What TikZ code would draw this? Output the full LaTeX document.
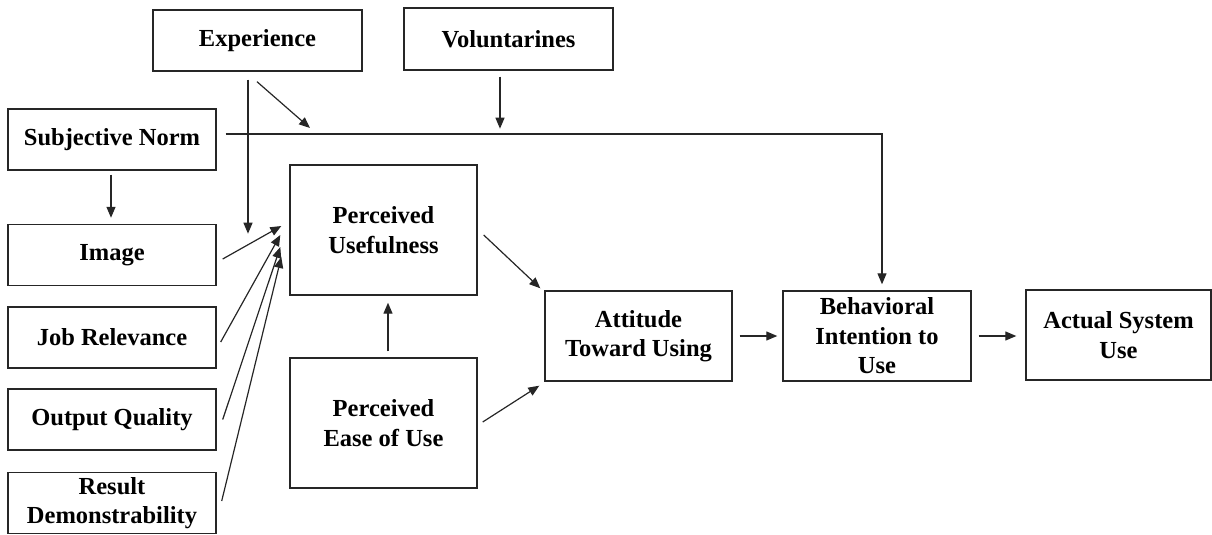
\documentclass[tikz,border=0pt]{standalone}
\usepackage{fontspec}
\setmainfont{Liberation Serif}
\usetikzlibrary{arrows.meta,calc}
\definecolor{ink}{HTML}{262626}
\begin{document}
\begin{tikzpicture}[x=1pt,y=-1pt,
  box/.style={draw=ink,line width=1.4pt,align=center,inner sep=0pt,
    font=\bfseries\fontsize{24.5}{29.5}\selectfont},
  side/.style={box,minimum width=208pt,minimum height=61pt},
  core/.style={box,minimum width=187pt,minimum height=130pt},
  stage/.style={box,minimum width=187pt,minimum height=90pt},
  link/.style={draw=ink,line width=1.2pt,-{Triangle[length=11pt,width=9pt]}}]
\useasboundingbox (0,0) rectangle (1212,535);

% moderators along the top
\node[box,minimum width=209pt,minimum height=61pt] (exp) at (257.5,40.5) {Experience};
\node[box,minimum width=209pt,minimum height=62pt] (vol) at (508.5,39) {Voluntarines};

% external variables on the left
\node[side] (sn)  at (112,139.5) {Subjective Norm};
\node[side] (img) at (112,255)   {Image};
\node[side] (job) at (112,337.5) {Job Relevance};
\node[side] (oq)  at (112,419.5) {Output Quality};
\node[side] (rd)  at (112,503)   {Result\\Demonstrability};

% perceptions
\node[core] (pu)   at (383.5,230) {Perceived\\Usefulness};
\node[core] (peou) at (383.5,423) {Perceived\\Ease of Use};

% attitude, intention and use
\node[stage] (att) at (638.5,336) {Attitude\\Toward Using};
\node[stage,minimum width=188pt] (bi) at (877,336) {Behavioral\\Intention to\\Use};
\node[stage,minimum width=185pt] (asu) at (1118.5,335) {Actual System\\Use};

% subjective norm straight to intention
\draw[link] ($(sn.east)+(9,-5.5)$) -| ($(bi.north)+(5,-6)$);

% experience and voluntariness moderating that path
\coordinate (mod) at (310,128);
\draw[link] ($(exp.south)+(-0.5,10)$) -- (mod);
\draw[link] ($(vol.south)+(-8.5,6)$) -- ($(vol.south)+(-8.5,58)$);
\draw[link] ($(exp.south)+(-9.5,8)$) -- ($(exp.south)+(-9.5,162)$);

% subjective norm to image
\draw[link] ($(sn.south)+(-1,4)$) -- ($(img.north)+(-1,-6)$);

% determinants of perceived usefulness
\draw[link] ($(img.east)+(6,4)$)   -- ($(pu.west)+(-8,-4)$);
\draw[link] ($(job.east)+(4,4.5)$) -- ($(pu.west)+(-9,5)$);
\draw[link] ($(oq.east)+(6,0)$)    -- ($(pu.west)+(-9,17)$);
\draw[link] ($(rd.east)+(5,-2)$)   -- ($(pu.west)+(-8,27)$);

% core model
\draw[link] ($(peou.north)+(4.5,-6)$) -- ($(pu.south)+(4.5,7)$);
\draw[link] ($(pu.east)+(6,5)$)    -- ($(att.north west)+(-4,-2)$);
\draw[link] ($(peou.east)+(5,-1)$) -- ($(att.south west)+(-5,4)$);
\draw[link] ($(att.east)+(7,0)$)   -- ($(bi.west)+(-5,0)$);
\draw[link] ($(bi.east)+(7,0)$)    -- ($(asu.west)+(-9,1)$);
\end{tikzpicture}
\end{document}
